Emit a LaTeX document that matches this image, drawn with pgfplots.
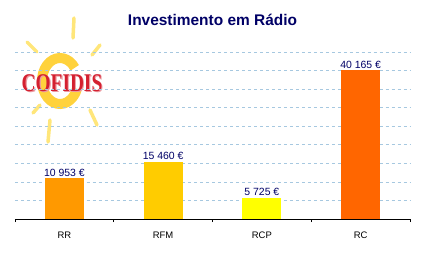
\documentclass[border=0pt]{standalone}
\usepackage{fontspec}
\setmainfont{Liberation Sans}
\newfontfamily\logofont{Liberation Serif}
\usepackage{pgfplots}
\pgfplotsset{compat=1.18}
\definecolor{navy}{HTML}{000066}
\definecolor{gridc}{HTML}{A6C8E0}
\definecolor{cRR}{HTML}{FF9900}
\definecolor{cRFM}{HTML}{FFCC00}
\definecolor{cRCP}{HTML}{FFFF00}
\definecolor{cRC}{HTML}{FF6600}
\definecolor{sunring}{HTML}{FFD23C}
\definecolor{sunray}{HTML}{FFE67A}
\definecolor{logored}{HTML}{D42030}
\begin{document}
\begin{tikzpicture}
\useasboundingbox (-15bp,-41bp) rectangle (409bp,219bp);
% logo (decoration)
\begin{scope}[sunray, line width=3.5bp, line cap=round]
  \draw (59bp,201bp) -- (58bp,181bp);
  \draw (12bp,177bp) -- (22bp,167bp);
  \draw (85bp,174bp) -- (77bp,164bp);
  \draw (18bp,106bp) -- (25bp,114bp);
  \draw (33bp,77bp) -- (35bp,99bp);
  \draw (75bp,109bp) -- (82bp,94bp);
\end{scope}
\draw[sunring, line width=10bp] (45bp,138bp) ++(35:18bp and 23bp) arc[start angle=35, end angle=340, x radius=18bp, y radius=23bp];
\node[text=logored!45!white, font=\logofont\bfseries\fontsize{20}{20}\selectfont, xscale=0.97, yscale=1.28] at (48.2bp,134.8bp) {COFIDIS};
\node[text=logored, font=\logofont\bfseries\fontsize{20}{20}\selectfont, xscale=0.97, yscale=1.28] at (47bp,136bp) {COFIDIS};
\begin{axis}[
  at={(0,0)}, anchor=south west,
  scale only axis, width=395bp, height=167bp,
  xmin=-0.5, xmax=3.5, ymin=0, ymax=45000,
  scaled y ticks=false,
  axis x line*=bottom, axis y line*=left,
  x axis line style={-, black, line width=0.6bp},
  y axis line style={draw=none},
  ytick={5000,10000,...,45000}, yticklabels={},
  ytick style={draw=none},
  ymajorgrids, grid style={gridc, dashed, line width=0.6bp},
  xtick={0,1,2,3}, xticklabels={RR,RFM,RCP,RC},
  xtick style={draw=none},
  xticklabel style={font=\fontsize{9.5}{10}\selectfont, yshift=-9bp},
  extra x ticks={-0.5,0.5,1.5,2.5,3.5}, extra x tick labels={},
  extra x tick style={tick style={draw=black, line width=0.6bp}, major tick length=3bp, tick align=outside, xtick style={draw=black}},
  title={Investimento em Rádio},
  title style={font=\bfseries\fontsize{15.5}{17}\selectfont, text=navy, at={(0.5,1)}, anchor=south, yshift=17bp},
  point meta=explicit symbolic,
  nodes near coords,
  every node near coord/.append style={font=\fontsize{10.5}{11}\selectfont, text=navy, inner sep=1.5bp},
]
\addplot[ybar, bar width=39bp, fill=cRR, draw=none] coordinates {(0,10953) [10 953 €]};
\addplot[ybar, bar width=39bp, fill=cRFM, draw=none] coordinates {(1,15460) [15 460 €]};
\addplot[ybar, bar width=39bp, fill=cRCP, draw=none] coordinates {(2,5725) [5 725 €]};
\addplot[ybar, bar width=39bp, fill=cRC, draw=none] coordinates {(3,40165) [40 165 €]};
\end{axis}
\end{tikzpicture}
\end{document}
